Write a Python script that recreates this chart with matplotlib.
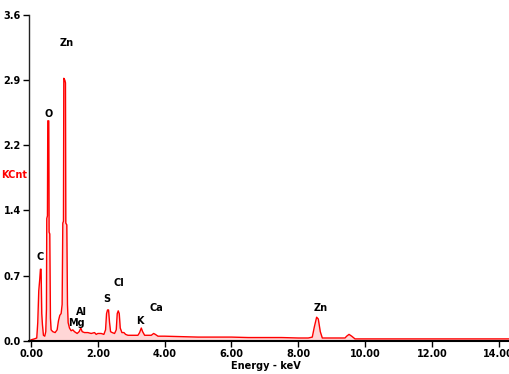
import numpy as np
import matplotlib
matplotlib.use("Agg")
import matplotlib.pyplot as plt

# EDS spectrum (energy in keV, counts in KCnt)
energy = [0.00, 0.10, 0.17, 0.20, 0.23, 0.26, 0.28, 0.30, 0.32, 0.34, 0.37, 0.41,
          0.44, 0.46, 0.47, 0.49, 0.50, 0.53, 0.54, 0.56, 0.58, 0.60, 0.65, 0.72,
          0.78, 0.82, 0.86, 0.90, 0.93, 0.95, 0.97, 0.98, 1.01, 1.03, 1.04, 1.07,
          1.09, 1.11, 1.15, 1.20, 1.25, 1.30, 1.38, 1.44, 1.49, 1.53, 1.60, 1.70,
          1.80, 1.90, 1.95, 2.00, 2.10, 2.18, 2.23, 2.26, 2.29, 2.32, 2.35, 2.38,
          2.43, 2.50, 2.55, 2.58, 2.61, 2.64, 2.67, 2.72, 2.78, 2.83, 2.90, 3.00,
          3.10, 3.20, 3.25, 3.30, 3.34, 3.40, 3.50, 3.60, 3.67, 3.72, 3.80, 4.00,
          4.50, 5.00, 5.50, 6.00, 6.50, 7.00, 7.50, 8.00, 8.30, 8.42, 8.48, 8.55,
          8.60, 8.66, 8.72, 9.00, 9.40, 9.45, 9.52, 9.60, 9.70, 10.0, 11.0, 12.0,
          13.0, 14.4]
kcnt = [0.01, 0.02, 0.03, 0.20, 0.55, 0.68, 0.79, 0.79, 0.30, 0.18, 0.06, 0.05,
        0.10, 0.35, 1.35, 1.38, 2.43, 2.43, 1.20, 1.18, 0.25, 0.12, 0.10, 0.09,
        0.12, 0.22, 0.28, 0.30, 0.40, 1.30, 1.32, 2.90, 2.88, 2.85, 1.30, 1.28,
        0.40, 0.20, 0.14, 0.11, 0.12, 0.10, 0.08, 0.10, 0.14, 0.10, 0.09, 0.09,
        0.08, 0.09, 0.07, 0.08, 0.08, 0.07, 0.12, 0.30, 0.34, 0.34, 0.20, 0.10,
        0.09, 0.08, 0.12, 0.30, 0.33, 0.30, 0.14, 0.09, 0.09, 0.07, 0.06, 0.06,
        0.06, 0.06, 0.09, 0.14, 0.10, 0.06, 0.06, 0.06, 0.08, 0.07, 0.05, 0.05,
        0.045, 0.04, 0.04, 0.04, 0.035, 0.035, 0.035, 0.03, 0.03, 0.04, 0.15, 0.26,
        0.24, 0.10, 0.03, 0.03, 0.03, 0.05, 0.07, 0.05, 0.02, 0.02, 0.02, 0.02,
        0.02, 0.02]

# element labels and where they sit
elements = ["Zn", "O", "C", "Al", "Mg", "S", "Cl", "K", "Ca", "Zn"]
label_x = [1.08, 0.52, 0.27, 1.52, 1.37, 2.28, 2.64, 3.27, 3.76, 8.67]
label_y = [3.29, 2.51, 0.92, 0.32, 0.20, 0.46, 0.64, 0.22, 0.36, 0.36]

xticks = np.arange(0, 15, 2)
yticks = [0.0, 0.72, 1.44, 2.16, 2.88, 3.6]

fig = plt.figure(figsize=(5.1, 3.74), dpi=100)
ax = fig.add_axes([0.057, 0.089, 0.943, 0.871])

ax.fill_between(energy, kcnt, 0, color="#ffd6d6", lw=0)
ax.plot(energy, kcnt, color="red", lw=1.0)

for name, x, y in zip(elements, label_x, label_y):
    ax.text(x, y, name, ha="center", va="center", fontsize=7, fontweight="bold")

ax.set_xlim(-0.06, 14.34)
ax.set_ylim(0, 3.6)
ax.set_xticks(xticks)
ax.set_xticklabels(["%.2f" % t for t in xticks])
ax.set_yticks(yticks)
ax.set_yticklabels(["%.1f" % t for t in yticks])

for s in ["top", "right"]:
    ax.spines[s].set_visible(False)
ax.spines["left"].set_color("#222222")
ax.spines["left"].set_linewidth(1.0)
ax.spines["bottom"].set_color("black")
ax.spines["bottom"].set_linewidth(1.5)
ax.tick_params(axis="both", direction="out", length=4, width=1, labelsize=7, pad=2)
for lab in ax.get_xticklabels() + ax.get_yticklabels():
    lab.set_fontweight("bold")

fig.text(14 / 510, 1 - 175 / 374, "KCnt", color="red", fontsize=7, fontweight="bold",
         ha="center", va="center")
fig.text(266 / 510, 1 - 366 / 374, "Energy - keV", fontsize=7, fontweight="bold",
         ha="center", va="center")

fig.savefig("out.png", dpi=100)
